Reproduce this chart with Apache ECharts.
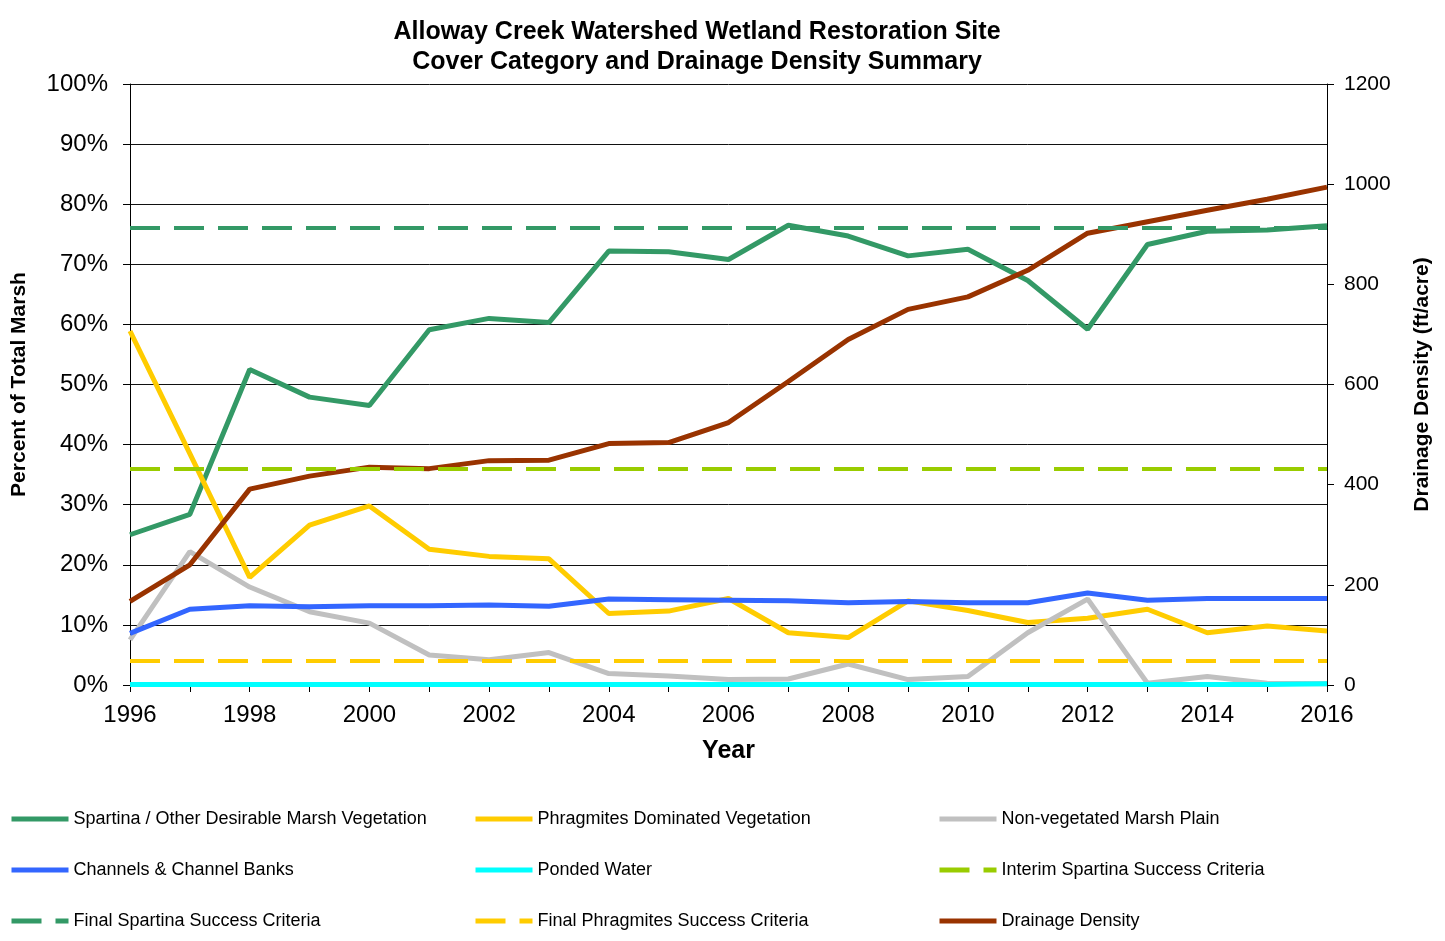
<!DOCTYPE html>
<html>
<head>
<meta charset="utf-8">
<title>Alloway Creek Watershed</title>
<script src="https://cdn.jsdelivr.net/npm/echarts@6/dist/echarts.min.js"></script>
<style>
  html, body { margin: 0; padding: 0; background: #fff; }
  #chart { width: 1445px; height: 941px; }
</style>
</head>
<body>
<div id="chart"></div>
<script>
// Daten
const years = ['1996','1997','1998','1999','2000','2001','2002','2003','2004','2005','2006',
               '2007','2008','2009','2010','2011','2012','2013','2014','2015','2016'];

const spartina   = [25.0, 28.4, 52.5, 47.9, 46.5, 59.1, 61.0, 60.3, 72.2, 72.1, 70.8,
                    76.5, 74.7, 71.4, 72.5, 67.3, 59.2, 73.3, 75.5, 75.7, 76.4];
const phragmites = [58.9, 38.5, 17.9, 26.6, 29.8, 22.6, 21.4, 21.0, 11.9, 12.3, 14.4,
                    8.7, 7.9, 14.0, 12.4, 10.4, 11.1, 12.6, 8.7, 9.8, 9.0];
const nonVeg     = [7.5, 22.2, 16.3, 12.2, 10.3, 5.0, 4.2, 5.4, 1.9, 1.5, 0.9,
                    1.0, 3.5, 0.9, 1.4, 8.7, 14.3, 0.3, 1.4, 0.3, 0.2];
const channels   = [8.6, 12.6, 13.2, 13.0, 13.2, 13.2, 13.3, 13.1, 14.3, 14.2, 14.1,
                    14.0, 13.7, 13.9, 13.7, 13.7, 15.3, 14.1, 14.4, 14.4, 14.4];
const ponded     = [0.1, 0.1, 0.1, 0.1, 0.1, 0.1, 0.1, 0.1, 0.1, 0.1, 0.1,
                    0.1, 0.1, 0.1, 0.1, 0.1, 0.1, 0.1, 0.1, 0.1, 0.2];
const drainage   = [167, 240, 391, 417, 435, 432, 448, 449, 482, 484, 524,
                    606, 690, 750, 775, 828, 902, 925, 948, 970, 994];

// Erfolgskriterien (%)
const interimSpartina = 36;
const finalSpartina = 76;
const finalPhragmites = 4;

const FONT = 'Arial, "Liberation Sans", sans-serif';

const chart = echarts.init(document.getElementById('chart'));

function solid(name, data, color, yIndex) {
    return {
        name: name,
        type: 'line',
        data: data,
        yAxisIndex: yIndex || 0,
        symbol: 'none',
        lineStyle: { color: color, width: 5 },
        itemStyle: { color: color },
        animation: false
    };
}

function criteria(name, value, color) {
    return {
        name: name,
        type: 'line',
        data: [],
        symbol: 'none',
        lineStyle: { color: color, width: 4, type: [30, 14] },
        itemStyle: { color: color },
        markLine: {
            silent: true,
            symbol: 'none',
            label: { show: false },
            lineStyle: { color: color, width: 4, type: [30, 14] },
            data: [{ yAxis: value }]
        },
        animation: false
    };
}

const legendBase = {
    orient: 'vertical',
    padding: 0,
    itemWidth: 57,
    itemHeight: 14,
    itemGap: 33,
    itemStyle: { opacity: 0 },
    lineStyle: { width: 5 },
    textStyle: { fontFamily: FONT, fontSize: 18, color: '#000', lineHeight: 14 },
    selectedMode: false
};

const option = {
    animation: false,
    title: {
        text: 'Alloway Creek Watershed Wetland Restoration Site\nCover Category and Drainage Density Summary',
        left: 692,
        textAlign: 'center',
        top: 12,
        textStyle: { fontFamily: FONT, fontSize: 25, fontWeight: 'bold', color: '#000', lineHeight: 30 }
    },
    legend: [
        Object.assign({ left: 9, top: 810, data: ['Spartina / Other Desirable Marsh Vegetation', 'Channels & Channel Banks', 'Final Spartina Success Criteria'] }, legendBase),
        Object.assign({ left: 473, top: 810, data: ['Phragmites Dominated Vegetation', 'Ponded Water', 'Final Phragmites Success Criteria'] }, legendBase),
        Object.assign({ left: 937, top: 810, data: ['Non-vegetated Marsh Plain', 'Interim Spartina Success Criteria', 'Drainage Density'] }, legendBase)
    ],
    grid: { left: 130, right: 118, top: 84, bottom: 256 },
    xAxis: {
        type: 'category',
        data: years,
        boundaryGap: false,
        name: 'Year',
        nameLocation: 'middle',
        nameGap: 54,
        nameTextStyle: { fontFamily: FONT, fontSize: 25, fontWeight: 'bold', color: '#000' },
        axisLine: { lineStyle: { color: '#000', width: 1 } },
        axisTick: { show: true, interval: 0, length: 7, lineStyle: { color: '#000' } },
        axisLabel: { interval: 1, fontFamily: FONT, fontSize: 24, color: '#000', margin: 18 },
        splitLine: { show: false }
    },
    yAxis: [
        {
            type: 'value',
            min: 0, max: 100, interval: 10,
            name: 'Percent of Total Marsh',
            nameLocation: 'middle',
            nameGap: 100,
            nameTextStyle: { fontFamily: FONT, fontSize: 21, fontWeight: 'bold', color: '#000' },
            axisLine: { show: true, lineStyle: { color: '#000', width: 1 } },
            axisTick: { show: true, length: 7, lineStyle: { color: '#000' } },
            axisLabel: { formatter: '{value}%', fontFamily: FONT, fontSize: 24, color: '#000', margin: 22 },
            splitLine: { show: true, lineStyle: { color: '#111', width: 1 } }
        },
        {
            type: 'value',
            min: 0, max: 1200, interval: 200,
            name: 'Drainage Density (ft/acre)',
            nameLocation: 'middle',
            nameGap: 85,
            nameTextStyle: { fontFamily: FONT, fontSize: 21, fontWeight: 'bold', color: '#000' },
            axisLine: { show: true, lineStyle: { color: '#000', width: 1 } },
            axisTick: { show: true, length: 7, lineStyle: { color: '#000' } },
            axisLabel: { formatter: v => String(v), fontFamily: FONT, fontSize: 21, color: '#000', margin: 17 },
            splitLine: { show: false }
        }
    ],
    series: [
        solid('Spartina / Other Desirable Marsh Vegetation', spartina, '#339966'),
        solid('Phragmites Dominated Vegetation', phragmites, '#FFCC00'),
        solid('Non-vegetated Marsh Plain', nonVeg, '#C0C0C0'),
        solid('Channels & Channel Banks', channels, '#3366FF'),
        solid('Ponded Water', ponded, '#00FFFF'),
        criteria('Interim Spartina Success Criteria', interimSpartina, '#99CC00'),
        criteria('Final Spartina Success Criteria', finalSpartina, '#339966'),
        criteria('Final Phragmites Success Criteria', finalPhragmites, '#FFCC00'),
        solid('Drainage Density', drainage, '#993300', 1)
    ]
};

chart.setOption(option);

window.addEventListener('resize', () => {
    chart.resize();
});
</script>
</body>
</html>
